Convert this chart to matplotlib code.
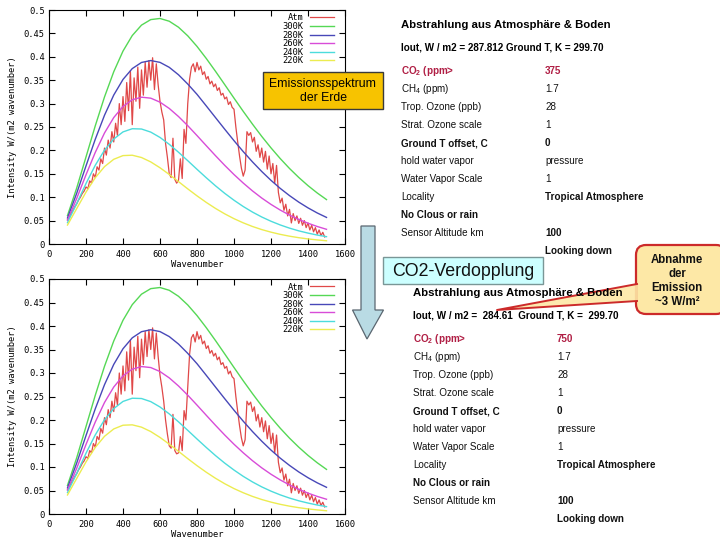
import numpy as np
import matplotlib.pyplot as plt
from matplotlib.patches import Rectangle, Polygon, FancyBboxPatch

plt.rcParams['font.family'] = ['Liberation Sans', 'DejaVu Sans']
plt.rcParams['mathtext.fontset'] = 'custom'
plt.rcParams['mathtext.rm'] = 'Liberation Sans'
plt.rcParams['mathtext.bf'] = 'Liberation Sans:bold'

MONO = 'DejaVu Sans Mono'

# blackbody curves, read every 50 cm-1 from 100 to 1500
wn_bb = np.arange(100, 1501, 50)
bb_300 = [0.0608, 0.1199, 0.1860, 0.2524, 0.3142, 0.3681, 0.4122, 0.4454, 0.4677, 0.4795,
          0.4819, 0.4760, 0.4632, 0.4448, 0.4222, 0.3965, 0.3690, 0.3405, 0.3117, 0.2834,
          0.2561, 0.2299, 0.2054, 0.1825, 0.1614, 0.1422, 0.1247, 0.1090, 0.0949]
bb_280 = [0.0557, 0.1087, 0.1668, 0.2237, 0.2751, 0.3183, 0.3516, 0.3748, 0.3879, 0.3920,
          0.3881, 0.3775, 0.3616, 0.3418, 0.3198, 0.2951, 0.2701, 0.2452, 0.2208, 0.1974,
          0.1754, 0.1549, 0.1360, 0.1188, 0.1034, 0.0895, 0.0772, 0.0663, 0.0568]
bb_260 = [0.0506, 0.0976, 0.1479, 0.1956, 0.2372, 0.2702, 0.2939, 0.3082, 0.3137, 0.3116,
          0.3031, 0.2896, 0.2724, 0.2528, 0.2317, 0.2101, 0.1887, 0.1680, 0.1484, 0.1302,
          0.1134, 0.0982, 0.0846, 0.0725, 0.0618, 0.0525, 0.0444, 0.0374, 0.0314]
bb_240 = [0.0456, 0.0866, 0.1292, 0.1682, 0.2004, 0.2243, 0.2395, 0.2463, 0.2457, 0.2391,
          0.2277, 0.2130, 0.1961, 0.1780, 0.1596, 0.1416, 0.1243, 0.1082, 0.0935, 0.0801,
          0.0682, 0.0577, 0.0486, 0.0407, 0.0339, 0.0281, 0.0233, 0.0191, 0.0157]
bb_220 = [0.0405, 0.0758, 0.1109, 0.1416, 0.1653, 0.1810, 0.1889, 0.1897, 0.1848, 0.1754,
          0.1629, 0.1486, 0.1333, 0.1178, 0.1029, 0.0889, 0.0760, 0.0644, 0.0541, 0.0452,
          0.0374, 0.0308, 0.0253, 0.0206, 0.0167, 0.0135, 0.0108, 0.0087, 0.0069]

# atmosphere spectrum, every 10 cm-1 from 100 to 1490
wn_atm = np.arange(100, 1500, 10)
atm_375 = [0.052, 0.058, 0.066, 0.072, 0.080, 0.086, 0.094, 0.100, 0.108, 0.113,
           0.122, 0.118, 0.135, 0.130, 0.150, 0.142, 0.165, 0.158, 0.182, 0.172,
           0.205, 0.190, 0.222, 0.205, 0.240, 0.218, 0.258, 0.232, 0.300, 0.255,
           0.315, 0.262, 0.345, 0.285, 0.370, 0.255, 0.355, 0.305, 0.378, 0.290,
           0.372, 0.318, 0.388, 0.335, 0.392, 0.350, 0.398, 0.330, 0.385, 0.340,
           0.305, 0.282, 0.265, 0.215, 0.185, 0.150, 0.142, 0.226, 0.138, 0.130,
           0.136, 0.182, 0.140, 0.245, 0.215, 0.300, 0.352, 0.378, 0.385, 0.368,
           0.388, 0.372, 0.380, 0.362, 0.368, 0.352, 0.358, 0.342, 0.348, 0.336,
           0.342, 0.328, 0.334, 0.318, 0.322, 0.310, 0.314, 0.298, 0.304, 0.292,
           0.288, 0.250, 0.218, 0.188, 0.162, 0.145, 0.158, 0.240, 0.232, 0.238,
           0.218, 0.228, 0.198, 0.212, 0.185, 0.205, 0.175, 0.198, 0.160, 0.188,
           0.150, 0.172, 0.130, 0.168, 0.110, 0.088, 0.098, 0.072, 0.085, 0.060,
           0.074, 0.045, 0.065, 0.050, 0.060, 0.044, 0.055, 0.040, 0.050, 0.035,
           0.045, 0.030, 0.040, 0.026, 0.035, 0.021, 0.030, 0.018, 0.025, 0.015]
atm_750 = [0.052, 0.058, 0.066, 0.072, 0.080, 0.086, 0.094, 0.100, 0.108, 0.113,
           0.122, 0.118, 0.135, 0.130, 0.150, 0.142, 0.165, 0.158, 0.182, 0.172,
           0.205, 0.190, 0.222, 0.205, 0.240, 0.218, 0.258, 0.232, 0.300, 0.255,
           0.315, 0.262, 0.345, 0.285, 0.370, 0.255, 0.355, 0.305, 0.378, 0.290,
           0.372, 0.318, 0.388, 0.335, 0.392, 0.350, 0.396, 0.330, 0.385, 0.335,
           0.295, 0.270, 0.240, 0.200, 0.170, 0.145, 0.140, 0.212, 0.135, 0.128,
           0.130, 0.165, 0.135, 0.220, 0.200, 0.270, 0.340, 0.375, 0.382, 0.366,
           0.388, 0.372, 0.380, 0.362, 0.368, 0.352, 0.358, 0.342, 0.348, 0.336,
           0.342, 0.328, 0.334, 0.318, 0.322, 0.310, 0.314, 0.298, 0.304, 0.292,
           0.288, 0.250, 0.218, 0.188, 0.162, 0.145, 0.158, 0.240, 0.232, 0.238,
           0.218, 0.228, 0.198, 0.212, 0.185, 0.205, 0.175, 0.198, 0.160, 0.188,
           0.150, 0.172, 0.130, 0.168, 0.110, 0.088, 0.098, 0.072, 0.085, 0.060,
           0.074, 0.045, 0.065, 0.050, 0.060, 0.044, 0.055, 0.040, 0.050, 0.035,
           0.045, 0.030, 0.040, 0.026, 0.035, 0.021, 0.030, 0.018, 0.025, 0.015]

series_names = ['Atm', '300K', '280K', '260K', '240K', '220K']
series_colors = ['#e04848', '#55d855', '#4848b8', '#d84cd8', '#4cdcdc', '#ecec50']

x_ticks = [0, 200, 400, 600, 800, 1000, 1200, 1400, 1600]
y_ticks = [0, 0.05, 0.1, 0.15, 0.2, 0.25, 0.3, 0.35, 0.4, 0.45, 0.5]
y_ticklabels = ['0', '0.05', '0.1', '0.15', '0.2', '0.25', '0.3', '0.35', '0.4', '0.45', '0.5']

param_labels = ['CO$_\\mathbf{2}$ (ppm>', 'CH$_\\mathrm{4}$ (ppm)', 'Trop. Ozone (ppb)',
                'Strat. Ozone scale', 'Ground T offset, C', 'hold water vapor',
                'Water Vapor Scale', 'Locality', 'No Clous or rain', 'Sensor Altitude km', '']
label_bold = [True, False, False, False, True, False, False, False, True, False, False]
values_375 = ['375', '1.7', '28', '1', '0', 'pressure', '1', 'Tropical Atmosphere', '', '100', 'Looking down']
values_750 = ['750', '1.7', '28', '1', '0', 'pressure', '1', 'Tropical Atmosphere', '', '100', 'Looking down']
value_bold = [True, False, False, False, True, False, False, True, False, True, True]
iout_375 = 'Iout, W / m2 = 287.812 Ground T, K = 299.70'
iout_750 = 'Iout, W / m2 =  284.61  Ground T, K =  299.70'


def draw_spectrum(ax, atm):
    curves = [atm, bb_300, bb_280, bb_260, bb_240, bb_220]
    for i, (name, col, vals) in enumerate(zip(series_names, series_colors, curves)):
        wn = wn_atm if i == 0 else wn_bb
        ax.plot(wn, vals, color=col, lw=0.9 if i == 0 else 1.0, label=name)
    ax.set_xlim(0, 1600)
    ax.set_ylim(0, 0.5)
    ax.set_xticks(x_ticks)
    ax.set_xticklabels([str(t) for t in x_ticks], fontfamily=MONO, fontsize=6.3)
    ax.set_yticks(y_ticks)
    ax.set_yticklabels(y_ticklabels, fontfamily=MONO, fontsize=6.3)
    ax.tick_params(direction='in', top=True, right=True, length=4, width=0.8)
    ax.tick_params(axis='y', pad=3)
    ax.tick_params(axis='x', pad=4)
    for s in ax.spines.values():
        s.set_linewidth(0.8)
    ax.set_xlabel('Wavenumber', fontfamily=MONO, fontsize=6.3, labelpad=1)
    ax.set_ylabel('Intensity W/(m2 wavenumber)', fontfamily=MONO, fontsize=6.3, labelpad=5)
    ax.legend(loc='upper right', bbox_to_anchor=(0.975, 1.0), frameon=False, markerfirst=False,
              prop={'family': MONO, 'size': 6.3}, handlelength=2.8, labelspacing=-0.05,
              borderpad=0.1, borderaxespad=0.3, handletextpad=0.7)


def draw_table(ax, x1, x2, y0, iout, values):
    ax.text(x1, y0, 'Abstrahlung aus Atmosphäre & Boden', fontsize=8.2, fontweight='bold', va='center')
    ax.text(x1, y0 + 23, iout, fontsize=7.15, fontweight='bold', va='center')
    for i, (lab, val) in enumerate(zip(param_labels, values)):
        y = y0 + 46 + 18 * i
        col = '#b01e44' if i == 0 else '#111111'
        ax.text(x1, y, lab, fontsize=7.1, va='center', color=col,
                fontweight='bold' if label_bold[i] else 'normal')
        ax.text(x2, y, val, fontsize=7.1, va='center', color=col,
                fontweight='bold' if value_bold[i] else 'normal')


fig = plt.figure(figsize=(7.2, 5.4), dpi=100)
ax1 = fig.add_axes([49 / 720, 1 - 244 / 540, 296 / 720, 234 / 540])
ax2 = fig.add_axes([49 / 720, 1 - 514 / 540, 296 / 720, 235 / 540])
draw_spectrum(ax1, atm_375)
draw_spectrum(ax2, atm_750)

# overlay in pixel coordinates for the slide annotations
ov = fig.add_axes([0, 0, 1, 1])
ov.set_xlim(0, 720)
ov.set_ylim(540, 0)
ov.axis('off')
ov.patch.set_alpha(0)

draw_table(ov, 401, 545, 25, iout_375, values_375)
draw_table(ov, 413, 557, 293, iout_750, values_750)

ov.add_patch(Rectangle((263, 72), 120, 37, facecolor='#f7c300', edgecolor='#3a3a3a', lw=1.0))
ov.text(323, 91, 'Emissionsspektrum\nder Erde', fontsize=8.8, ha='center', va='center',
        linespacing=1.15)

ov.add_patch(Polygon([(361, 226), (375, 226), (375, 310), (383.5, 310), (367, 339),
                      (352.5, 310), (361, 310)], closed=True,
                     facecolor='#b9dbe4', edgecolor='#5a6670', lw=0.9))

ov.add_patch(Rectangle((383, 257), 160, 27, facecolor='#ccffff', edgecolor='#7a9696', lw=1.0))
ov.text(463, 271, 'CO2-Verdopplung', fontsize=12.8, ha='center', va='center', color='#111111')

ov.add_patch(FancyBboxPatch((636, 245), 90, 69, boxstyle='round,pad=0,rounding_size=10',
                            facecolor='#fde8a6', edgecolor='#cc2a2a', lw=1.6))
ov.add_patch(Polygon([(637, 284), (497, 310), (637, 301)], closed=True,
                     facecolor='#fde8a6', edgecolor='none', alpha=0.9))
ov.plot([637, 497, 637], [284, 310, 301], color='#cc2a2a', lw=1.4)
ov.text(677, 281, 'Abnahme\nder\nEmission\n~3 W/m²', fontsize=8.3, fontweight='bold',
        ha='center', va='center', linespacing=1.2, color='#111111')

fig.savefig('out.png', dpi=100)
